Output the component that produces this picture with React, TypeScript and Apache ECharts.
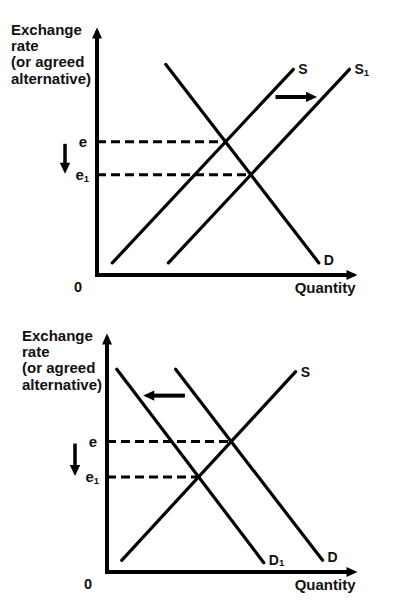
import React, { useEffect, useRef } from "react";
import * as echarts from "echarts";

// ---- Data (axis units 0..100 on both axes) ----
// Top panel: supply shifts right (S -> S1)
const topSupply = [[6, 5], [77, 85]];
const topSupply1 = [[28, 5], [99, 85]];
const topDemand = [[27, 87], [87, 5]];
// Bottom panel: demand shifts left (D -> D1)
const botSupply = [[6, 5], [77, 86]];
const botDemand = [[28, 87], [88, 5]];
const botDemand1 = [[4, 87], [64, 4]];

// Labels
const yTitleLines = ["Exchange", "rate", "(or agreed", "alternative)"];
const xTitle = "Quantity";
const originLabel = "0";
const priceLabel = "e";
const priceLabel1 = "{a|e}{b|1}";
const supplyLabel = "S";
const supply1Label = "{a|S}{b|1}";
const demandLabel = "D";
const demand1Label = "{a|D}{b|1}";

// Shift arrows in data units: [xFrom, xTo, y]
const topShiftArrow = [70, 86.3, 73.6];
const botShiftArrow = [31.8, 14.8, 75.7];

const FONT = '"Liberation Sans", Arial, Helvetica, sans-serif';
const INK = "#000";
const TXT = "#111";

function intersect(a: number[][], b: number[][]): number[] {
  const [x1, y1] = a[0];
  const [x2, y2] = a[1];
  const [x3, y3] = b[0];
  const [x4, y4] = b[1];
  const d = (x1 - x2) * (y3 - y4) - (y1 - y2) * (x3 - x4);
  const t = ((x1 - x3) * (y3 - y4) - (y1 - y3) * (x3 - x4)) / d;
  return [x1 + t * (x2 - x1), y1 + t * (y2 - y1)];
}

const subRich = {
  a: { fontSize: 14, fontWeight: "bold", fontFamily: FONT, color: TXT, lineHeight: 16 },
  b: { fontSize: 9.5, fontWeight: "bold", fontFamily: FONT, color: TXT, lineHeight: 9, verticalAlign: "bottom" },
};

function axisPair(gridIndex: number) {
  const axisLine = {
    show: true,
    onZero: false,
    symbol: ["none", "triangle"],
    symbolSize: [10, 11],
    lineStyle: { color: INK, width: 4, cap: "square" },
  };
  const base = {
    gridIndex,
    type: "value",
    min: 0,
    max: 100,
    axisLine,
    axisTick: { show: false },
    axisLabel: { show: false },
    splitLine: { show: false },
  };
  return { x: { ...base }, y: { ...base } };
}

function curve(idx: number, data: number[][], label: string, offset: number[] = [0, 0]) {
  return {
    type: "line",
    xAxisIndex: idx,
    yAxisIndex: idx,
    data,
    showSymbol: false,
    symbol: "none",
    silent: true,
    lineStyle: { color: INK, width: 3.2, cap: "round" },
    endLabel: {
      show: true,
      formatter: label,
      distance: 5,
      offset,
      color: TXT,
      fontSize: 14,
      fontWeight: "bold",
      fontFamily: FONT,
      rich: subRich,
    },
    z: 3,
  };
}

function dashed(idx: number, pt: number[]) {
  return {
    type: "line",
    xAxisIndex: idx,
    yAxisIndex: idx,
    data: [[0, pt[1]], [pt[0], pt[1]]],
    showSymbol: false,
    symbol: "none",
    silent: true,
    lineStyle: { color: INK, width: 3, type: [9, 5] },
    z: 2,
  };
}

export default function App() {
  const ref = useRef<HTMLDivElement>(null);

  useEffect(() => {
    if (!ref.current) return;
    const chart = echarts.init(ref.current, undefined, { renderer: "svg" });

    const eTop = intersect(topSupply, topDemand);
    const e1Top = intersect(topSupply1, topDemand);
    const eBot = intersect(botSupply, botDemand);
    const e1Bot = intersect(botSupply, botDemand1);

    const a0 = axisPair(0);
    const a1 = axisPair(1);

    chart.setOption({
      animation: false,
      backgroundColor: "#fff",
      grid: [
        { left: 97, top: 33, width: 255, height: 242 },
        { left: 107, top: 339, width: 245, height: 233 },
      ],
      xAxis: [a0.x, a1.x],
      yAxis: [a0.y, a1.y],
      series: [
        curve(0, topSupply, supplyLabel),
        curve(0, topSupply1, supply1Label),
        curve(0, topDemand, demandLabel, [0, -3]),
        dashed(0, eTop),
        dashed(0, e1Top),
        curve(1, botSupply, supplyLabel),
        curve(1, botDemand, demandLabel, [0, -3]),
        curve(1, botDemand1, demand1Label, [0, -3]),
        dashed(1, eBot),
        dashed(1, e1Bot),
      ],
    });

    const px = (gi: number, p: number[]) => chart.convertToPixel({ gridIndex: gi } as any, p) as number[];
    const g: any[] = [];
    const text = (x: number, y: number, t: string, extra: any = {}) =>
      g.push({
        type: "text",
        x,
        y,
        z: 100,
        silent: true,
        style: {
          text: t,
          fill: TXT,
          fontFamily: FONT,
          fontWeight: "bold",
          fontSize: 15,
          ...extra,
        },
      });
    const arrow = (x1: number, y1: number, x2: number, y2: number, w: number) => {
      const len = Math.hypot(x2 - x1, y2 - y1);
      const ux = (x2 - x1) / len;
      const uy = (y2 - y1) / len;
      const hl = 11;
      const hw = 5.2;
      const bx = x2 - ux * hl;
      const by = y2 - uy * hl;
      g.push({
        type: "line",
        z: 100,
        silent: true,
        shape: { x1, y1, x2: bx + ux, y2: by + uy },
        style: { stroke: INK, lineWidth: w },
      });
      g.push({
        type: "polygon",
        z: 100,
        silent: true,
        shape: { points: [[x2, y2], [bx - uy * hw, by + ux * hw], [bx + uy * hw, by - ux * hw]] },
        style: { fill: INK },
      });
    };

    const panels = [
      { gi: 0, e: eTop, e1: e1Top, shift: topShiftArrow, titleX: 11 },
      { gi: 1, e: eBot, e1: e1Bot, shift: botShiftArrow, titleX: 22 },
    ];
    panels.forEach((p) => {
      const origin = px(p.gi, [0, 0]);
      const top = px(p.gi, [0, 100]);
      const xEnd = px(p.gi, [100, 0]);
      // y title
      text(p.titleX, top[1] - 12.2, yTitleLines.join("\n"), {
        lineHeight: 16.4,
        align: "left",
        verticalAlign: "top",
      });
      // origin
      text(origin[0] - 19, origin[1] + 12, originLabel, { align: "center", verticalAlign: "middle", fontSize: 14.5 });
      // x title
      text(xEnd[0] + 3.5, origin[1] + 12, xTitle, { align: "right", verticalAlign: "middle" });
      // price labels
      const ePx = px(p.gi, [0, p.e[1]]);
      const e1Px = px(p.gi, [0, p.e1[1]]);
      text(ePx[0] - 10, ePx[1], priceLabel, { align: "right", verticalAlign: "middle", fontSize: 15 });
      text(e1Px[0] - 8, e1Px[1], priceLabel1, {
        align: "right",
        verticalAlign: "middle",
        rich: {
          a: { fontSize: 15, fontWeight: "bold", fontFamily: FONT, fill: TXT, lineHeight: 17 },
          b: { fontSize: 9.5, fontWeight: "bold", fontFamily: FONT, fill: TXT, lineHeight: 9, verticalAlign: "bottom" },
        },
      });
      // down arrow
      arrow(ePx[0] - 32, ePx[1] + 2, e1Px[0] - 32, e1Px[1] - 1, 3.5);
      // shift arrow
      const s0 = px(p.gi, [p.shift[0], p.shift[2]]);
      const s1 = px(p.gi, [p.shift[1], p.shift[2]]);
      arrow(s0[0], s0[1], s1[0], s1[1], 4);
    });

    chart.setOption({ graphic: g });

    return () => chart.dispose();
  }, []);

  return (
    <div
      ref={ref}
      style={{ position: "fixed", left: 0, top: 0, width: 410, height: 613, background: "#fff" }}
    />
  );
}
